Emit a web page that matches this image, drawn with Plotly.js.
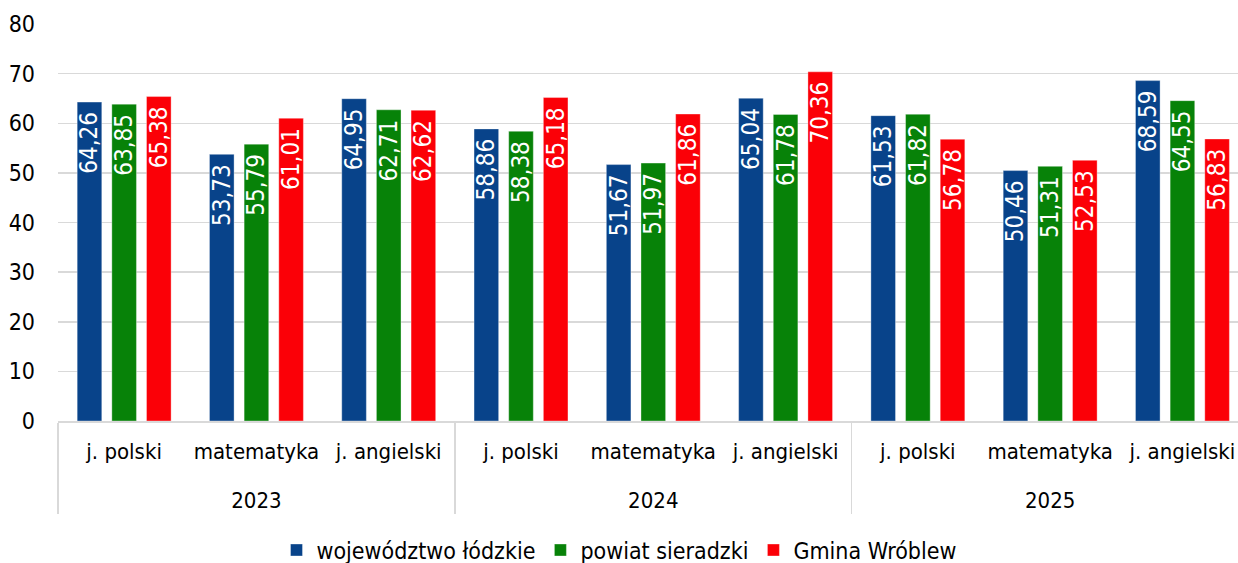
<!DOCTYPE html>
<html lang="pl">
<head>
<meta charset="UTF-8">
<title>Wyniki egzaminu</title>
<script src="https://cdn.jsdelivr.net/npm/plotly.js-dist-min@3.0.1/plotly.min.js"></script>
<style>
  html, body { margin: 0; padding: 0; background: #fff; overflow: hidden; }
  #chart { width: 1238px; height: 563px; }
</style>
</head>
<body>
<div id="chart"></div>
<script>
// categories
const years = ['2023', '2023', '2023', '2024', '2024', '2024', '2025', '2025', '2025'];
const subjects = ['j. polski', 'matematyka', 'j. angielski', 'j. polski', 'matematyka', 'j. angielski', 'j. polski', 'matematyka', 'j. angielski'];

// series
const wojewodztwo = [64.26, 53.73, 64.95, 58.86, 51.67, 65.04, 61.53, 50.46, 68.59];
const powiat = [63.85, 55.79, 62.71, 58.38, 51.97, 61.78, 61.82, 51.31, 64.55];
const gmina = [65.38, 61.01, 62.62, 65.18, 61.86, 70.36, 56.78, 52.53, 56.83];

const FONT = '"DejaVu Sans Condensed", "DejaVu Sans", sans-serif';

// extra empty line under the subject pushes the year row further down
const subjectLabels = subjects.map(s => s + '<br><span style="font-size:40px"> </span>');

function bar(name, values, color) {
    return {
        type: 'bar',
        name: name,
        x: [years, subjectLabels],
        y: values,
        marker: { color: color, line: { color: 'rgba(255,255,255,0.35)', width: 1 } },
        texttemplate: '%{y:.2f}\u00a0',
        textposition: 'inside',
        insidetextanchor: 'end',
        textangle: -90,
        constraintext: 'none',
        textfont: { color: '#ffffff', size: 24, family: FONT },
        hoverinfo: 'x+y+name'
    };
}

const data = [
    bar('województwo łódzkie', wojewodztwo, '#08438a'),
    bar('powiat sieradzki', powiat, '#078208'),
    bar('Gmina Wróblew', gmina, '#fb0007')
];

const layout = {
    width: 1238,
    height: 563,
    separators: ', ',
    font: { family: FONT, size: 22, color: '#000' },
    margin: { l: 58, r: 0, t: 24, b: 142 },
    barmode: 'group',
    bargap: 0.214,
    bargroupgap: 0.29,
    paper_bgcolor: '#fff',
    plot_bgcolor: '#fff',
    xaxis: {
        type: 'multicategory',
        range: [-0.5, 8.42],
        automargin: false,
        tickangle: 0,
        showline: true,
        linecolor: '#d9d9d9',
        linewidth: 1.5,
        showdividers: true,
        dividercolor: '#d9d9d9',
        dividerwidth: 1.5,
        ticklabelstandoff: 10,
        tickfont: { size: 22, family: FONT, color: '#000' },
        ticks: ''
    },
    yaxis: {
        range: [0, 80],
        dtick: 10,
        automargin: false,
        showgrid: true,
        gridcolor: '#d9d9d9',
        gridwidth: 1.5,
        zeroline: false,
        ticklabelstandoff: 22,
        tickfont: { size: 23, family: FONT, color: '#000' }
    },
    showlegend: true,
    legend: {
        orientation: 'h',
        x: 0.5,
        xref: 'container',
        xanchor: 'center',
        y: 0.023,
        yref: 'container',
        yanchor: 'middle',
        font: { size: 23, family: FONT, color: '#000' },
        itemwidth: 30,
        traceorder: 'normal'
    }
};

Plotly.newPlot('chart', data, layout, { displayModeBar: false, staticPlot: true });
</script>
</body>
</html>
